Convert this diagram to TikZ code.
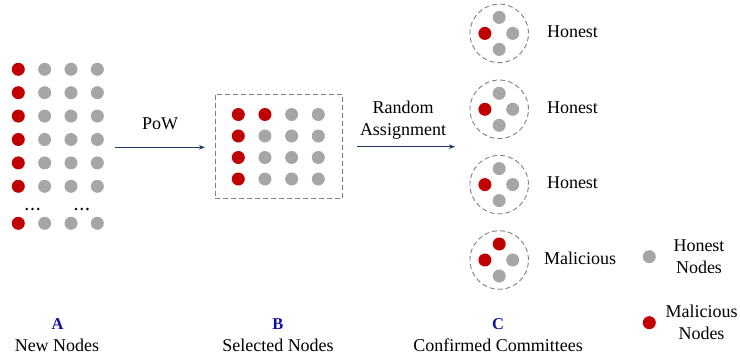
\documentclass[tikz,border=0pt]{standalone}
\usepackage{fontspec}
\setmainfont{Liberation Serif}
\usetikzlibrary{arrows.meta,calc}
\definecolor{mred}{RGB}{192,0,0}
\definecolor{mgray}{RGB}{166,166,166}
\definecolor{navy}{RGB}{31,56,100}
\definecolor{lblue}{RGB}{16,16,160}
\definecolor{dashgray}{RGB}{128,128,128}
\begin{document}
\begin{tikzpicture}[x=1pt,y=-1pt,
 dotr/.style={circle,fill=mred,inner sep=0pt,minimum size=13pt},
 dotg/.style={circle,fill=mgray,inner sep=0pt,minimum size=13pt},
 ell/.style={circle,fill=black,inner sep=0pt,minimum size=2.8pt},
 lbl/.style={font=\fontsize{18}{22}\selectfont,inner sep=0pt},
 capl/.style={font=\fontsize{16.5}{18}\selectfont\bfseries,text=lblue,anchor=base,inner sep=0pt},
 arr/.style={draw=navy,line width=1.1pt,-{Stealth[length=6pt,width=4.5pt]}},
 dbox/.style={draw=dashgray,line width=0.9pt,dash pattern=on 5pt off 3pt,inner sep=0pt},
 dcirc/.style={circle,draw=dashgray,line width=0.9pt,dash pattern=on 5pt off 3pt,inner sep=0pt,minimum size=58.5pt},
]
\useasboundingbox (0,0) rectangle (740,356);
% --- Group A: new nodes
\foreach \r in {0,...,5} {
  \node[dotr] (a\r-0) at ({18.3},{69.3+23.4*\r}) {};
  \foreach \c in {1,2,3} \node[dotg] (a\r-\c) at ({18.3+26.35*\c},{69.3+23.4*\r}) {};
}
\node[dotr] (a7-0) at (18.3,223.3) {};
\foreach \c in {1,2,3} \node[dotg] (a7-\c) at ({18.3+26.35*\c},223.3) {};
\foreach \i/\x in {1/26.7,2/32.5,3/38.3,4/76,5/81.7,6/87.4} \node[ell] (e\i) at (\x,209) {};
% --- Group B: selected nodes
\node[dbox,minimum width=127.7pt,minimum height=104pt] (boxB) at (278.85,146) {};
\foreach \r in {0,...,3} \foreach \c in {0,...,3} {
  \pgfmathtruncatemacro{\isred}{(\c==0) || (\r==0 && \c==1)}
  \ifnum\isred=1
    \node[dotr] (b\r-\c) at ({238.3+26.67*\c},{114.5+21.5*\r}) {};
  \else
    \node[dotg] (b\r-\c) at ({238.3+26.67*\c},{114.5+21.5*\r}) {};
  \fi
}
% --- arrows
\coordinate (p1) at (115,147.3);
\coordinate (p2) at (205,147.3);
\draw[arr] (p1) -- (p2);
\node[lbl,anchor=base] (pow) at (160,129) {PoW};
\coordinate (q1) at (356.7,146.7);
\coordinate (q2) at (455,146.7);
\draw[arr] (q1) -- (q2);
\node[lbl,align=center] (ra) at (403,120) {Random\\Assignment};
% --- Group C: committees
\foreach \i/\y in {1/33.4,2/109.3,3/184.6,4/260} {
  \node[dcirc] (c\i) at (499.2,\y) {};
  \node[dotr] (c\i l) at ($(c\i)+(-14.3,0)$) {};
  \node[dotg] (c\i r) at ($(c\i)+(13.5,0)$) {};
  \node[dotg] (c\i b) at ($(c\i)+(0,16)$) {};
}
\node[dotg] (c1t) at ($(c1)+(0,-16)$) {};
\node[dotg] (c2t) at ($(c2)+(0,-16)$) {};
\node[dotg] (c3t) at ($(c3)+(0,-16)$) {};
\node[dotr] (c4t) at ($(c4)+(0,-16)$) {};
\node[lbl,anchor=base] (h1) at (572.5,37.4) {Honest};
\node[lbl,anchor=base] (h2) at (572.5,113.3) {Honest};
\node[lbl,anchor=base] (h3) at (572.5,188.6) {Honest};
\node[lbl,anchor=base] (m4) at (580,264.5) {Malicious};
% --- legend
\node[dotg] (lg) at (649.3,256.7) {};
\node[lbl,align=center] (lgt) at (699,256.5) {Honest\\Nodes};
\node[dotr] (lr) at (649.3,322.7) {};
\node[lbl,align=center] (lrt) at (701.5,322.6) {Malicious\\Nodes};
% --- captions
\node[capl] (A) at (57.5,329) {A};
\node[lbl,anchor=base] (An) at (57,351) {New Nodes};
\node[capl] (B) at (278,329) {B};
\node[lbl,anchor=base] (Bn) at (278,351) {Selected Nodes};
\node[capl] (C) at (498,329) {C};
\node[lbl,anchor=base] (Cn) at (498,351) {Confirmed Committees};
\end{tikzpicture}
\end{document}
